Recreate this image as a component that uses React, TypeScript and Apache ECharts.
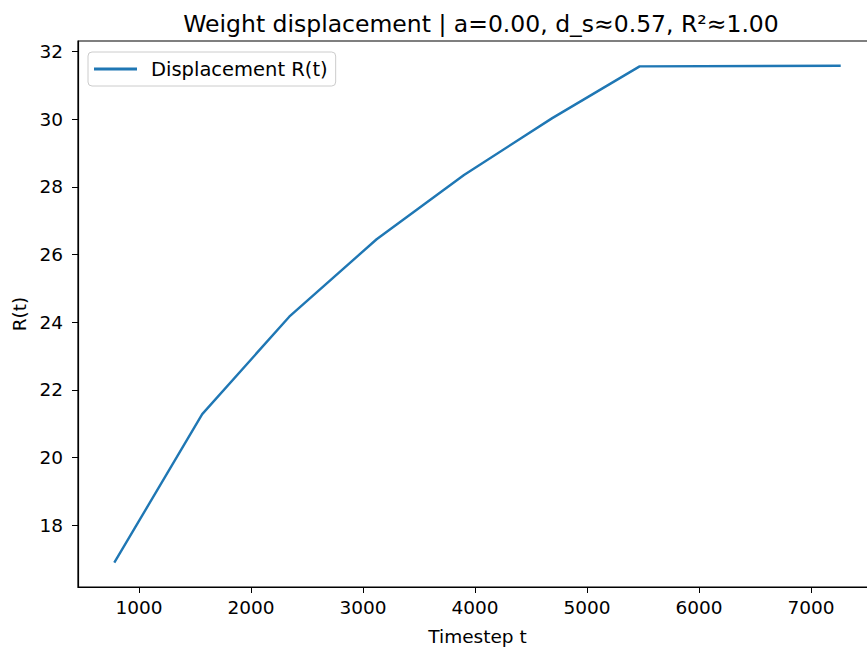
import React, { useEffect, useRef } from "react";
import * as echarts from "echarts";

const timesteps = [780, 1565, 2342, 3122, 3902, 4690, 5470, 7265];
const displacement = [16.89, 21.28, 24.16, 26.45, 28.35, 30.03, 31.56, 31.58];
const xTicks = [1000, 2000, 3000, 4000, 5000, 6000, 7000];
const yTicks = [18, 20, 22, 24, 26, 28, 30, 32];

const titleText = "Weight displacement | a=0.00, d_s\u22480.57, R\u00b2\u22481.00";
const seriesName = "Displacement R(t)";
const FONT = "DejaVu Sans";

export default function App() {
  const ref = useRef<HTMLDivElement>(null);
  useEffect(() => {
    if (!ref.current) return;
    const chart = echarts.init(ref.current, undefined, { renderer: "svg" });
    chart.setOption({
      animation: false,
      backgroundColor: "#ffffff",
      textStyle: { fontFamily: FONT },
      title: {
        text: titleText,
        left: 476,
        textAlign: "center",
        top: 7,
        textStyle: { fontFamily: FONT, fontSize: 23.5, fontWeight: "normal", color: "#000" },
      },
      legend: {
        left: 88,
        top: 52,
        padding: [6, 8, 6, 6],
        itemGap: 0,
        itemWidth: 43,
        itemHeight: 3,
        icon: "rect",
        borderColor: "#cccccc",
        borderWidth: 1,
        borderRadius: 4,
        backgroundColor: "#ffffff",
        textStyle: {
          fontFamily: FONT,
          fontSize: 19.5,
          lineHeight: 22,
          color: "#000",
          padding: [0, 0, 0, 9],
        },
        data: [seriesName],
      },
      grid: {
        left: 78,
        top: 41,
        width: 799,
        height: 546,
        outerBoundsMode: "none",
        containLabel: false,
        show: true,
        borderColor: "#000",
        borderWidth: 1.2,
        backgroundColor: "transparent",
      },
      xAxis: {
        type: "value",
        min: 456,
        max: 7589,
        name: "Timestep t",
        nameLocation: "middle",
        nameGap: 40,
        nameTextStyle: { fontFamily: FONT, fontSize: 18.5, color: "#000" },
        splitLine: { show: false },
        axisLine: { show: true, onZero: false, lineStyle: { color: "#000", width: 1.2 } },
        axisTick: { show: true, length: 6, customValues: xTicks, lineStyle: { color: "#000" } },
        axisLabel: {
          customValues: xTicks,
          formatter: (v: number) => String(v),
          fontFamily: FONT,
          fontSize: 18.5,
          color: "#000",
          margin: 11,
        },
      },
      yAxis: {
        type: "value",
        min: 16.17,
        max: 32.31,
        name: "R(t)",
        nameLocation: "middle",
        nameGap: 47,
        nameRotate: 90,
        nameTextStyle: { fontFamily: FONT, fontSize: 18.5, color: "#000" },
        splitLine: { show: false },
        axisLine: { show: true, onZero: false, lineStyle: { color: "#000", width: 1.2 } },
        axisTick: { show: true, length: 6, customValues: yTicks, lineStyle: { color: "#000" } },
        axisLabel: {
          customValues: yTicks,
          formatter: (v: number) => String(v),
          fontFamily: FONT,
          fontSize: 18.5,
          color: "#000",
          margin: 15,
        },
      },
      series: [
        {
          name: seriesName,
          type: "line",
          data: timesteps.map((t, i) => [t, displacement[i]]),
          showSymbol: false,
          symbol: "none",
          color: "#1f77b4",
          lineStyle: { color: "#1f77b4", width: 2.4 },
        },
      ],
    });
    return () => chart.dispose();
  }, []);
  return (
    <div
      ref={ref}
      style={{ position: "fixed", left: 0, top: 0, width: 880, height: 650 }}
    />
  );
}
